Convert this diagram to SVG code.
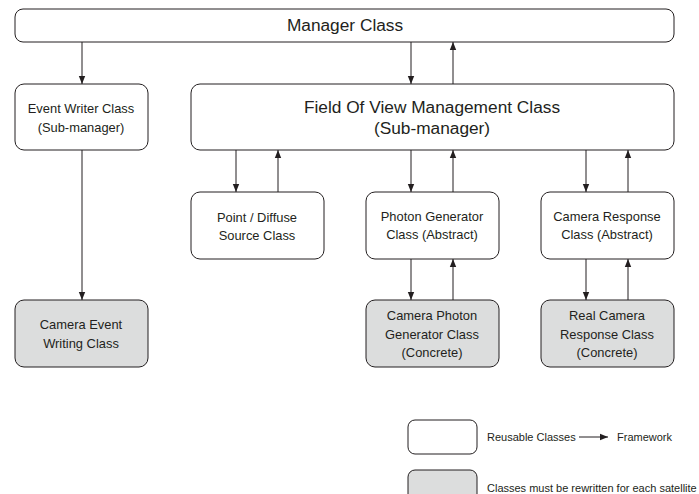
<svg xmlns="http://www.w3.org/2000/svg" width="699" height="494" viewBox="0 0 699 494">
<style>
.b{fill:#fff;stroke:#231f20;stroke-width:1}
.g{fill:#dcdddd;stroke:#231f20;stroke-width:1}
text{font-family:"Liberation Sans",Arial,sans-serif;fill:#231f20;text-anchor:middle}
.t16{font-size:17.3px}
.t12{font-size:12.9px}
.t11{font-size:11px;text-anchor:start}
.c line{stroke:#231f20;stroke-width:1;marker-end:url(#a)}
</style>
<defs>
<marker id="a" markerWidth="8" markerHeight="8" viewBox="0 0 8 8" refX="8" refY="4" orient="auto" markerUnits="userSpaceOnUse">
<path d="M0,0.8 L8,4 L0,7.2 Z" fill="#231f20"/>
</marker>
</defs>
<g id="manager"><rect class="b" x="15" y="9" width="659" height="33" rx="8"/><text class="t16" x="345" y="31">Manager Class</text></g>
<g id="eventwriter"><rect class="b" x="15" y="84" width="133" height="66" rx="9"/><text class="t12" x="81" y="113">Event Writer Class</text><text class="t12" x="81" y="132">(Sub-manager)</text></g>
<g id="fov"><rect class="b" x="191" y="84" width="483" height="66" rx="9"/><text class="t16" x="432" y="113">Field Of View Management Class</text><text class="t16" x="432" y="134">(Sub-manager)</text></g>
<g id="point"><rect class="b" x="191" y="192" width="133" height="67" rx="9"/><text class="t12" x="257" y="222">Point / Diffuse</text><text class="t12" x="257" y="240">Source Class</text></g>
<g id="photon"><rect class="b" x="366" y="192" width="133" height="67" rx="9"/><text class="t12" x="432" y="221">Photon Generator</text><text class="t12" x="432" y="239">Class (Abstract)</text></g>
<g id="camresp"><rect class="b" x="541" y="192" width="133" height="67" rx="9"/><text class="t12" x="607" y="221">Camera Response</text><text class="t12" x="607" y="239">Class (Abstract)</text></g>
<g id="camevent"><rect class="g" x="15" y="300" width="133" height="67" rx="9"/><text class="t12" x="81" y="329">Camera Event</text><text class="t12" x="81" y="348">Writing Class</text></g>
<g id="camphoton"><rect class="g" x="366" y="300" width="133" height="67" rx="9"/><text class="t12" x="432" y="320">Camera Photon</text><text class="t12" x="432" y="339">Generator Class</text><text class="t12" x="432" y="357">(Concrete)</text></g>
<g id="realcam"><rect class="g" x="541" y="300" width="133" height="67" rx="9"/><text class="t12" x="607" y="320">Real Camera</text><text class="t12" x="607" y="339">Response Class</text><text class="t12" x="607" y="357">(Concrete)</text></g>
<g id="legend">
<rect class="b" x="408" y="420" width="69" height="34" rx="7"/>
<rect class="g" x="408" y="470" width="69" height="34" rx="7"/>
<text class="t11" x="487" y="441">Reusable Classes</text>
<text class="t11" x="617" y="441">Framework</text>
<text class="t11" x="487" y="492">Classes must be rewritten for each satellite</text>
</g>
<g class="c" id="connectors">
<line x1="82" y1="42" x2="82" y2="84"/>
<line x1="411" y1="42" x2="411" y2="84"/>
<line x1="453" y1="84" x2="453" y2="42"/>
<line x1="82" y1="150" x2="82" y2="300"/>
<line x1="236" y1="150" x2="236" y2="192"/>
<line x1="278" y1="192" x2="278" y2="150"/>
<line x1="411" y1="150" x2="411" y2="192"/>
<line x1="453" y1="192" x2="453" y2="150"/>
<line x1="586" y1="150" x2="586" y2="192"/>
<line x1="628" y1="192" x2="628" y2="150"/>
<line x1="411" y1="259" x2="411" y2="300"/>
<line x1="453" y1="300" x2="453" y2="259"/>
<line x1="586" y1="259" x2="586" y2="300"/>
<line x1="628" y1="300" x2="628" y2="259"/>
<line x1="579" y1="437" x2="608" y2="437"/>
</g>
</svg>
